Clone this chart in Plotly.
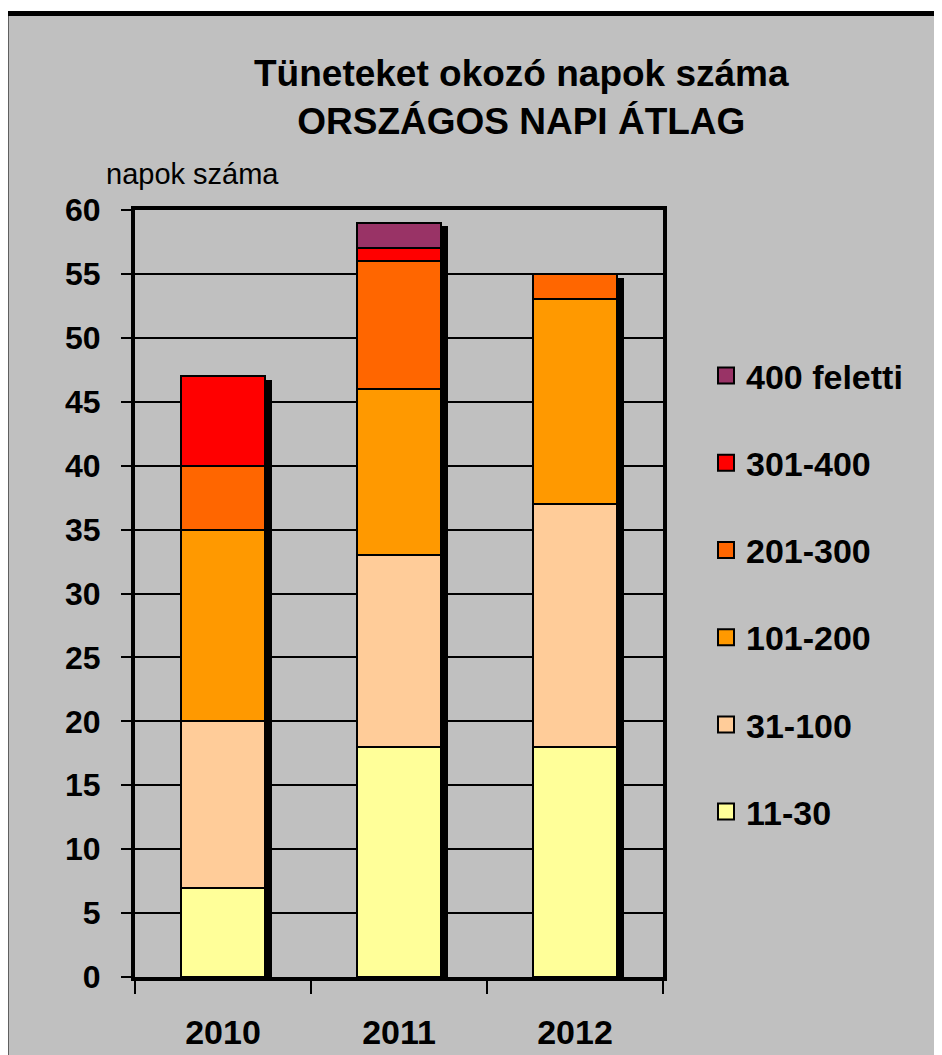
import numpy as np
import plotly.graph_objects as go

years = ["2010", "2011", "2012"]
series_names = ["11-30", "31-100", "101-200", "201-300", "301-400", "400 feletti"]
v_11_30 = [7, 18, 18]
v_31_100 = [13, 15, 19]
v_101_200 = [15, 13, 16]
v_201_300 = [5, 10, 2]
v_301_400 = [7, 1, 0]
v_400_plus = [0, 2, 0]
colors = ["#FFFF99", "#FFCC99", "#FF9900", "#FF6600", "#FF0000", "#993366"]

title_lines = ["Tüneteket okozó napok száma", "ORSZÁGOS NAPI ÁTLAG"]
y_label = "napok száma"
y_ticks = list(range(0, 61, 5))

series = [v_11_30, v_31_100, v_101_200, v_201_300, v_301_400, v_400_plus]
arr = np.array(series, dtype=float)
totals = arr.sum(axis=0)
bases = np.vstack([np.zeros(3), np.cumsum(arr, axis=0)[:-1]])

FONT = "Arial, Liberation Sans, sans-serif"
BW = 0.48
fig = go.Figure()

# shadow behind each stack
fig.add_trace(go.Bar(x=years, y=totals - 0.28, base=[0, 0, 0], width=BW,
                     offset=-BW / 2 + 0.04, marker=dict(color="black", line=dict(width=0)),
                     showlegend=False, hoverinfo="skip"))

for name, vals, base, col in zip(series_names, arr, bases, colors):
    yv = [v if v > 0 else None for v in vals]
    fig.add_trace(go.Bar(x=years, y=yv, base=base, width=BW, offset=-BW / 2,
                         marker=dict(color=col, line=dict(color="black", width=2)),
                         name=name, showlegend=False))

# legend entries (top: 400 feletti ... bottom: 11-30)
for name, col in reversed(list(zip(series_names, colors))):
    fig.add_trace(go.Scatter(x=[None], y=[None], mode="markers", name=name,
                             legendgroup=name,
                             marker=dict(symbol="square", size=16, color=col,
                                         line=dict(color="black", width=2))))

OFF = 8  # page body margin
W, H = 942 - OFF, 1055 - OFF
L, T = 135 - OFF, 210 - OFF
R = W - (663 - OFF)
B = H - (977 - OFF)
pw, ph = W - L - R, H - T - B


def px(x):
    return (x - OFF - L) / pw


def py(y):
    return (H - B - (y - OFF)) / ph


fig.add_shape(type="rect", xref="paper", yref="paper",
              x0=px(6), x1=px(990), y0=py(1100), y1=py(13.5),
              line=dict(color="black", width=5), fillcolor="#C0C0C0", layer="below")

fig.add_annotation(text="<br>".join("<b>%s</b>" % t for t in title_lines),
                   xref="paper", yref="paper", x=px(521), y=py(97),
                   xanchor="center", yanchor="middle", showarrow=False,
                   font=dict(family=FONT, size=37, color="black"))
fig.add_annotation(text=y_label, xref="paper", yref="paper", x=px(104), y=py(174),
                   xanchor="left", yanchor="middle", showarrow=False,
                   font=dict(family=FONT, size=29, color="black"))

fig.update_layout(
    width=W, height=H,
    margin=dict(l=L, r=R, t=T, b=B, autoexpand=False),
    paper_bgcolor="white", plot_bgcolor="#C0C0C0",
    barmode="overlay", bargap=0,
    font=dict(family=FONT, color="black"),
    legend=dict(x=px(706), xanchor="left", y=py(347), yanchor="top",
                traceorder="grouped", tracegroupgap=40,
                bgcolor="rgba(0,0,0,0)",
                font=dict(family=FONT, size=34, weight="bold", color="black")),
    xaxis=dict(type="category", categoryorder="array", categoryarray=years,
               range=[-0.5, 2.5], showgrid=False, showline=True, linecolor="black",
               linewidth=4, mirror=True, ticks="outside", tickson="boundaries",
               ticklen=13, tickwidth=2, tickcolor="black", ticklabelstandoff=22,
               automargin=False,
               tickfont=dict(family=FONT, size=34, weight="bold", color="black")),
    yaxis=dict(range=[0, 60], tickvals=y_ticks, showgrid=True, gridcolor="black",
               gridwidth=2, showline=True, linecolor="black", linewidth=4,
               mirror=True, ticks="outside", ticklen=10, tickwidth=2, tickcolor="black",
               ticklabelstandoff=14, zeroline=False, automargin=False,
               tickfont=dict(family=FONT, size=32, weight="bold", color="black")),
)

fig.write_html("out.html")
